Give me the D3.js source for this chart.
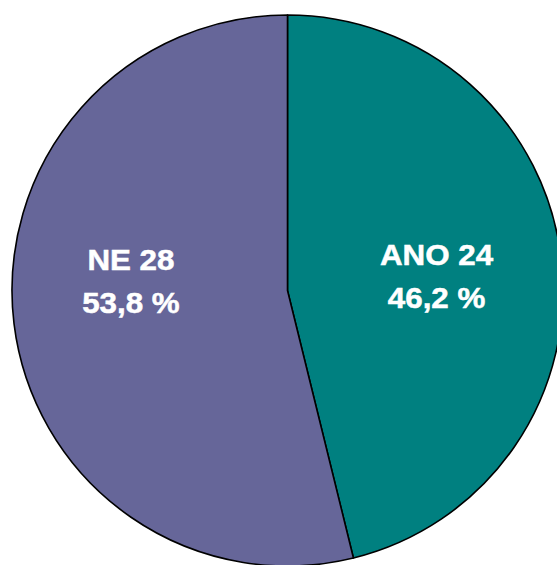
<!DOCTYPE html>
<html>
<head>
<meta charset="utf-8">
<script src="https://cdn.jsdelivr.net/npm/d3@7"></script>
<style>
  html, body { margin: 0; padding: 0; background: #ffffff; }
  svg { display: block; }
</style>
</head>
<body>
<svg id="chart" width="557" height="565"></svg>
<script>
// Slice data
const categories = ["ANO", "NE"];
const counts = [24, 28];
const percents = ["46,2", "53,8"];
const colors = ["#008080", "#666699"];

const svg = d3.select("#chart");
const cx = 287.5, cy = 290.5, radius = 275.5;

const g = svg.append("g").attr("transform", `translate(${cx},${cy})`);

const pie = d3.pie().sort(null).value(d => d.count);
const data = categories.map((c, i) => ({ cat: c, count: counts[i], pct: percents[i], color: colors[i] }));
const arcs = pie(data);

const arc = d3.arc().innerRadius(0).outerRadius(radius);

g.selectAll("path.slice")
  .data(arcs)
  .join("path")
  .attr("class", "slice")
  .attr("d", arc)
  .attr("fill", d => d.data.color)
  .attr("stroke", "#000")
  .attr("stroke-width", 1.6)
  .attr("stroke-linejoin", "round");

// Labels sit along the slice bisector, two stacked lines
const labelReach = [1.09, 1.145];
const labelBaseline = [-25.5, -20.5];
const lineGap = 43.5;
const labelX = (d, i) => d3.arc().innerRadius(0).outerRadius(radius * labelReach[i]).centroid(d)[0];

const labels = g.selectAll("g.lbl")
  .data(arcs)
  .join("g")
  .attr("class", "lbl")
  .attr("transform", (d, i) => `translate(${labelX(d, i)},${labelBaseline[i]}) scale(1.08,1)`);

const text = labels.append("text")
  .attr("text-anchor", "middle")
  .attr("fill", "#ffffff")
  .attr("stroke", "#ffffff")
  .attr("stroke-width", 0.5)
  .attr("font-family", "'Liberation Sans', Arial, sans-serif")
  .attr("font-weight", "bold")
  .attr("font-size", 29);

text.append("tspan")
  .attr("x", 0)
  .attr("y", 0)
  .text(d => `${d.data.cat} ${d.data.count}`);

text.append("tspan")
  .attr("x", 0)
  .attr("y", lineGap)
  .text(d => `${d.data.pct} %`);
</script>
</body>
</html>
